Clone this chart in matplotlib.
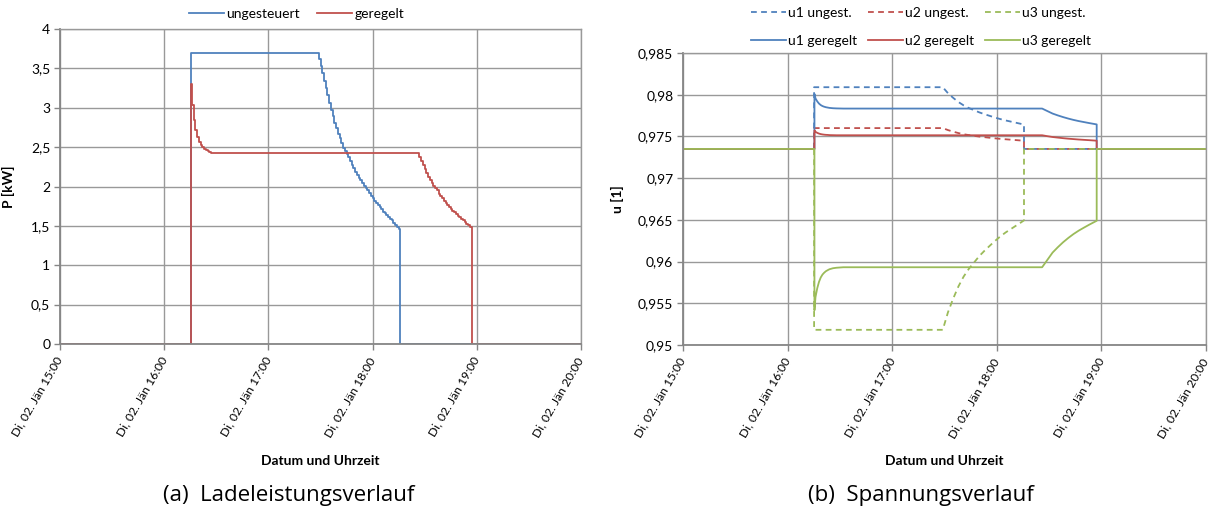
import matplotlib
matplotlib.use("Agg")
import matplotlib.pyplot as plt

plt.rcParams['font.family'] = ['Lato', 'DejaVu Sans']

# ---- axes ticks (time in minutes after 15:00) ----
time_ticks = [0, 60, 120, 180, 240, 300]
time_labels = ["Di, 02. Jän 15:00", "Di, 02. Jän 16:00", "Di, 02. Jän 17:00",
               "Di, 02. Jän 18:00", "Di, 02. Jän 19:00", "Di, 02. Jän 20:00"]

p_ticks = [0, 0.5, 1, 1.5, 2, 2.5, 3, 3.5, 4]
p_labels = ["0", "0,5", "1", "1,5", "2", "2,5", "3", "3,5", "4"]

u_ticks = [0.95, 0.955, 0.96, 0.965, 0.97, 0.975, 0.98, 0.985]
u_labels = ["0,95", "0,955", "0,96", "0,965", "0,97", "0,975", "0,98", "0,985"]

# ---- charging power [kW], uncontrolled ----
t_p_ungest = [0, 75.2, 149, 150, 151, 152, 153, 154, 155, 156, 157, 158, 159, 160,
              161, 162, 163, 164, 165, 166, 167, 168, 169, 170, 171, 172, 173, 174,
              175, 176, 177, 178, 179, 180, 181, 182, 183, 184, 185, 186, 187, 188,
              189, 190, 191, 192, 193, 194, 195, 195.6, 300]
p_ungest = [0, 3.70, 3.62, 3.53, 3.44, 3.34, 3.25, 3.16, 3.06, 2.97, 2.89, 2.81, 2.74, 2.67,
            2.61, 2.55, 2.49, 2.45, 2.41, 2.37, 2.32, 2.27, 2.23, 2.19, 2.15, 2.11, 2.08, 2.04,
            2.01, 1.98, 1.95, 1.92, 1.88, 1.85, 1.82, 1.79, 1.76, 1.74, 1.71, 1.68, 1.66, 1.64,
            1.61, 1.59, 1.57, 1.54, 1.51, 1.48, 1.46, 0, 0]

# ---- charging power [kW], controlled ----
t_p_geregelt = [0, 75.4, 76, 77, 78, 79, 80, 81, 82, 83, 84, 85, 86, 87, 88,
                207, 208, 209, 210, 211, 212, 213, 214, 215, 216, 217, 218, 219, 220,
                221, 222, 223, 224, 225, 226, 227, 228, 229, 230, 231, 232, 233, 234,
                235, 236, 237, 237.3, 300]
p_geregelt = [0, 3.30, 3.03, 2.85, 2.72, 2.63, 2.57, 2.53, 2.50, 2.48, 2.46, 2.45, 2.44, 2.43, 2.42,
              2.37, 2.32, 2.27, 2.22, 2.17, 2.12, 2.08, 2.04, 2.01, 1.98, 1.95, 1.91, 1.88, 1.85,
              1.82, 1.79, 1.77, 1.74, 1.71, 1.69, 1.67, 1.65, 1.63, 1.61, 1.59, 1.57, 1.55, 1.53,
              1.51, 1.49, 1.47, 0, 0]

# ---- node voltages [p.u.], uncontrolled ----
t_u_ungest = [0, 75.2, 75.2, 149, 152, 155, 158, 161, 164, 167, 170, 173, 176, 179,
              182, 185, 188, 191, 194, 195.6, 195.6, 300]
u1_ungest = [0.9735, 0.9735, 0.9809, 0.9809, 0.98018, 0.97962, 0.97912, 0.97872, 0.9784,
             0.97814, 0.97788, 0.97766, 0.97746, 0.97726, 0.97708, 0.97692, 0.97678,
             0.97664, 0.9765, 0.97642, 0.9735, 0.9735]
u2_ungest = [0.9735, 0.9735, 0.97600, 0.97600, 0.97576, 0.97557, 0.97540, 0.97526, 0.97516,
             0.97507, 0.97498, 0.97491, 0.97484, 0.97477, 0.97471, 0.97466, 0.97461,
             0.97456, 0.97451, 0.97449, 0.9735, 0.9735]
u3_ungest = [0.9735, 0.9735, 0.95182, 0.95182, 0.95393, 0.95557, 0.95703, 0.95821, 0.95914,
             0.95990, 0.96067, 0.96131, 0.96190, 0.96248, 0.96301, 0.96348, 0.96389,
             0.96430, 0.96471, 0.96494, 0.9735, 0.9735]

# ---- node voltages [p.u.], controlled ----
t_u_geregelt = [0, 75.4, 75.4, 76, 77, 78, 79, 80, 81, 82, 83, 84, 86, 88, 92,
                206, 209, 212, 215, 218, 221, 224, 227, 230, 233, 237.3, 237.3, 300]
u1_geregelt = [0.9735, 0.9735, 0.9801, 0.97956, 0.9792, 0.97894, 0.97876, 0.97864, 0.97856,
               0.9785, 0.97846, 0.97842, 0.97838, 0.97836, 0.97834,
               0.97834, 0.97804, 0.97774, 0.97752, 0.97732, 0.97714, 0.97698, 0.97684,
               0.97672, 0.9766, 0.97644, 0.9735, 0.9735]
u2_geregelt = [0.9735, 0.9735, 0.97573, 0.97555, 0.97543, 0.97534, 0.97528, 0.97524, 0.97521,
               0.97519, 0.97518, 0.97516, 0.97515, 0.97514, 0.97514,
               0.97514, 0.97503, 0.97493, 0.97486, 0.97479, 0.97473, 0.97468, 0.97463,
               0.97459, 0.97455, 0.97449, 0.9735, 0.9735]
u3_geregelt = [0.9735, 0.9735, 0.95416, 0.95574, 0.9568, 0.95756, 0.95809, 0.95844, 0.95867,
               0.95885, 0.95897, 0.95908, 0.9592, 0.95926, 0.95932,
               0.95932, 0.9602, 0.96108, 0.96172, 0.96231, 0.96283, 0.96330, 0.96371,
               0.96407, 0.96442, 0.96489, 0.9735, 0.9735]

BLUE = "#4F81BD"
RED = "#C0504D"
GREEN = "#9BBB59"
GRID = "#999999"
AXIS = "#868686"
DASH = (0, (3.2, 2.4))

W, H = 1211, 520
fig = plt.figure(figsize=(W / 100, H / 100), dpi=100)


def box(x0, y0, x1, y1):
    return [x0 / W, 1 - y1 / H, (x1 - x0) / W, (y1 - y0) / H]


def style_axes(ax, yticks, ylabels, ylabel, ylab_x, xlab_y):
    ax.set_xlim(0, 300)
    ax.set_xticks(time_ticks)
    ax.set_xticklabels(time_labels, rotation=60, ha="right", va="center",
                       rotation_mode="anchor", fontsize=8.7)
    ax.set_yticks(yticks)
    ax.set_yticklabels(ylabels, fontsize=10)
    ax.set_ylim(yticks[0], yticks[-1])
    ax.grid(True, color=GRID, linewidth=1.0)
    ax.set_axisbelow(True)
    for side in ("top", "right"):
        ax.spines[side].set_color(GRID)
        ax.spines[side].set_linewidth(1.0)
    for side in ("left", "bottom"):
        ax.spines[side].set_color(AXIS)
        ax.spines[side].set_linewidth(1.3)
    ax.tick_params(axis="both", direction="out", length=4, width=1, color=AXIS)
    ax.tick_params(axis="x", pad=6)
    ax.tick_params(axis="y", pad=3)
    ax.set_ylabel(ylabel, fontsize=10, fontweight="bold")
    ax.yaxis.set_label_coords(ylab_x, 0.5)
    ax.set_xlabel("Datum und Uhrzeit", fontsize=10, fontweight="bold", va="center")
    ax.xaxis.set_label_coords(0.5, xlab_y)


# ---- left: charging power ----
ax1 = fig.add_axes(box(60, 29, 581, 344))
ax1.plot(t_p_ungest, p_ungest, drawstyle="steps-post", color=BLUE, lw=1.3, label="ungesteuert")
ax1.plot(t_p_geregelt, p_geregelt, drawstyle="steps-post", color=RED, lw=1.3, label="geregelt")
style_axes(ax1, p_ticks, p_labels, "P [kW]", -0.086, -0.371)
ax1.legend(loc="center", bbox_to_anchor=(296.5 / W, 1 - 14 / H),
           bbox_transform=fig.transFigure, ncol=2, frameon=False, fontsize=10,
           handlelength=2.5, handletextpad=0.15, columnspacing=1.3, borderaxespad=0)

# ---- right: node voltages ----
ax2 = fig.add_axes(box(683, 53, 1206, 345))
l1u, = ax2.plot(t_u_ungest, u1_ungest, color=BLUE, lw=1.3, ls=DASH, label="u1 ungest.")
l2u, = ax2.plot(t_u_ungest, u2_ungest, color=RED, lw=1.3, ls=DASH, label="u2 ungest.")
l3u, = ax2.plot(t_u_ungest, u3_ungest, color=GREEN, lw=1.3, ls=DASH, label="u3 ungest.")
l1g, = ax2.plot(t_u_geregelt, u1_geregelt, color=BLUE, lw=1.3, label="u1 geregelt")
l2g, = ax2.plot(t_u_geregelt, u2_geregelt, color=RED, lw=1.3, label="u2 geregelt")
l3g, = ax2.plot(t_u_geregelt, u3_geregelt, color=GREEN, lw=1.3, label="u3 geregelt")
style_axes(ax2, u_ticks, u_labels, "u [1]", -0.113, -0.397)
ax2.legend([l1u, l1g, l2u, l2g, l3u, l3g],
           ["u1 ungest.", "u1 geregelt", "u2 ungest.", "u2 geregelt", "u3 ungest.", "u3 geregelt"],
           loc="center", bbox_to_anchor=(921 / W, 1 - 27 / H),
           bbox_transform=fig.transFigure, ncol=3, frameon=False, fontsize=10,
           handlelength=2.5, handletextpad=0.15, columnspacing=0.8, labelspacing=1.15,
           borderaxespad=0)

# ---- sub captions ----
fig.text(289 / W, 1 - 496 / H, "(a)  Ladeleistungsverlauf", ha="center", va="center",
         fontsize=16, family=["Open Sans", "DejaVu Sans"])
fig.text(921 / W, 1 - 496 / H, "(b)  Spannungsverlauf", ha="center", va="center",
         fontsize=16, family=["Open Sans", "DejaVu Sans"])

fig.savefig("out.png", dpi=100)
